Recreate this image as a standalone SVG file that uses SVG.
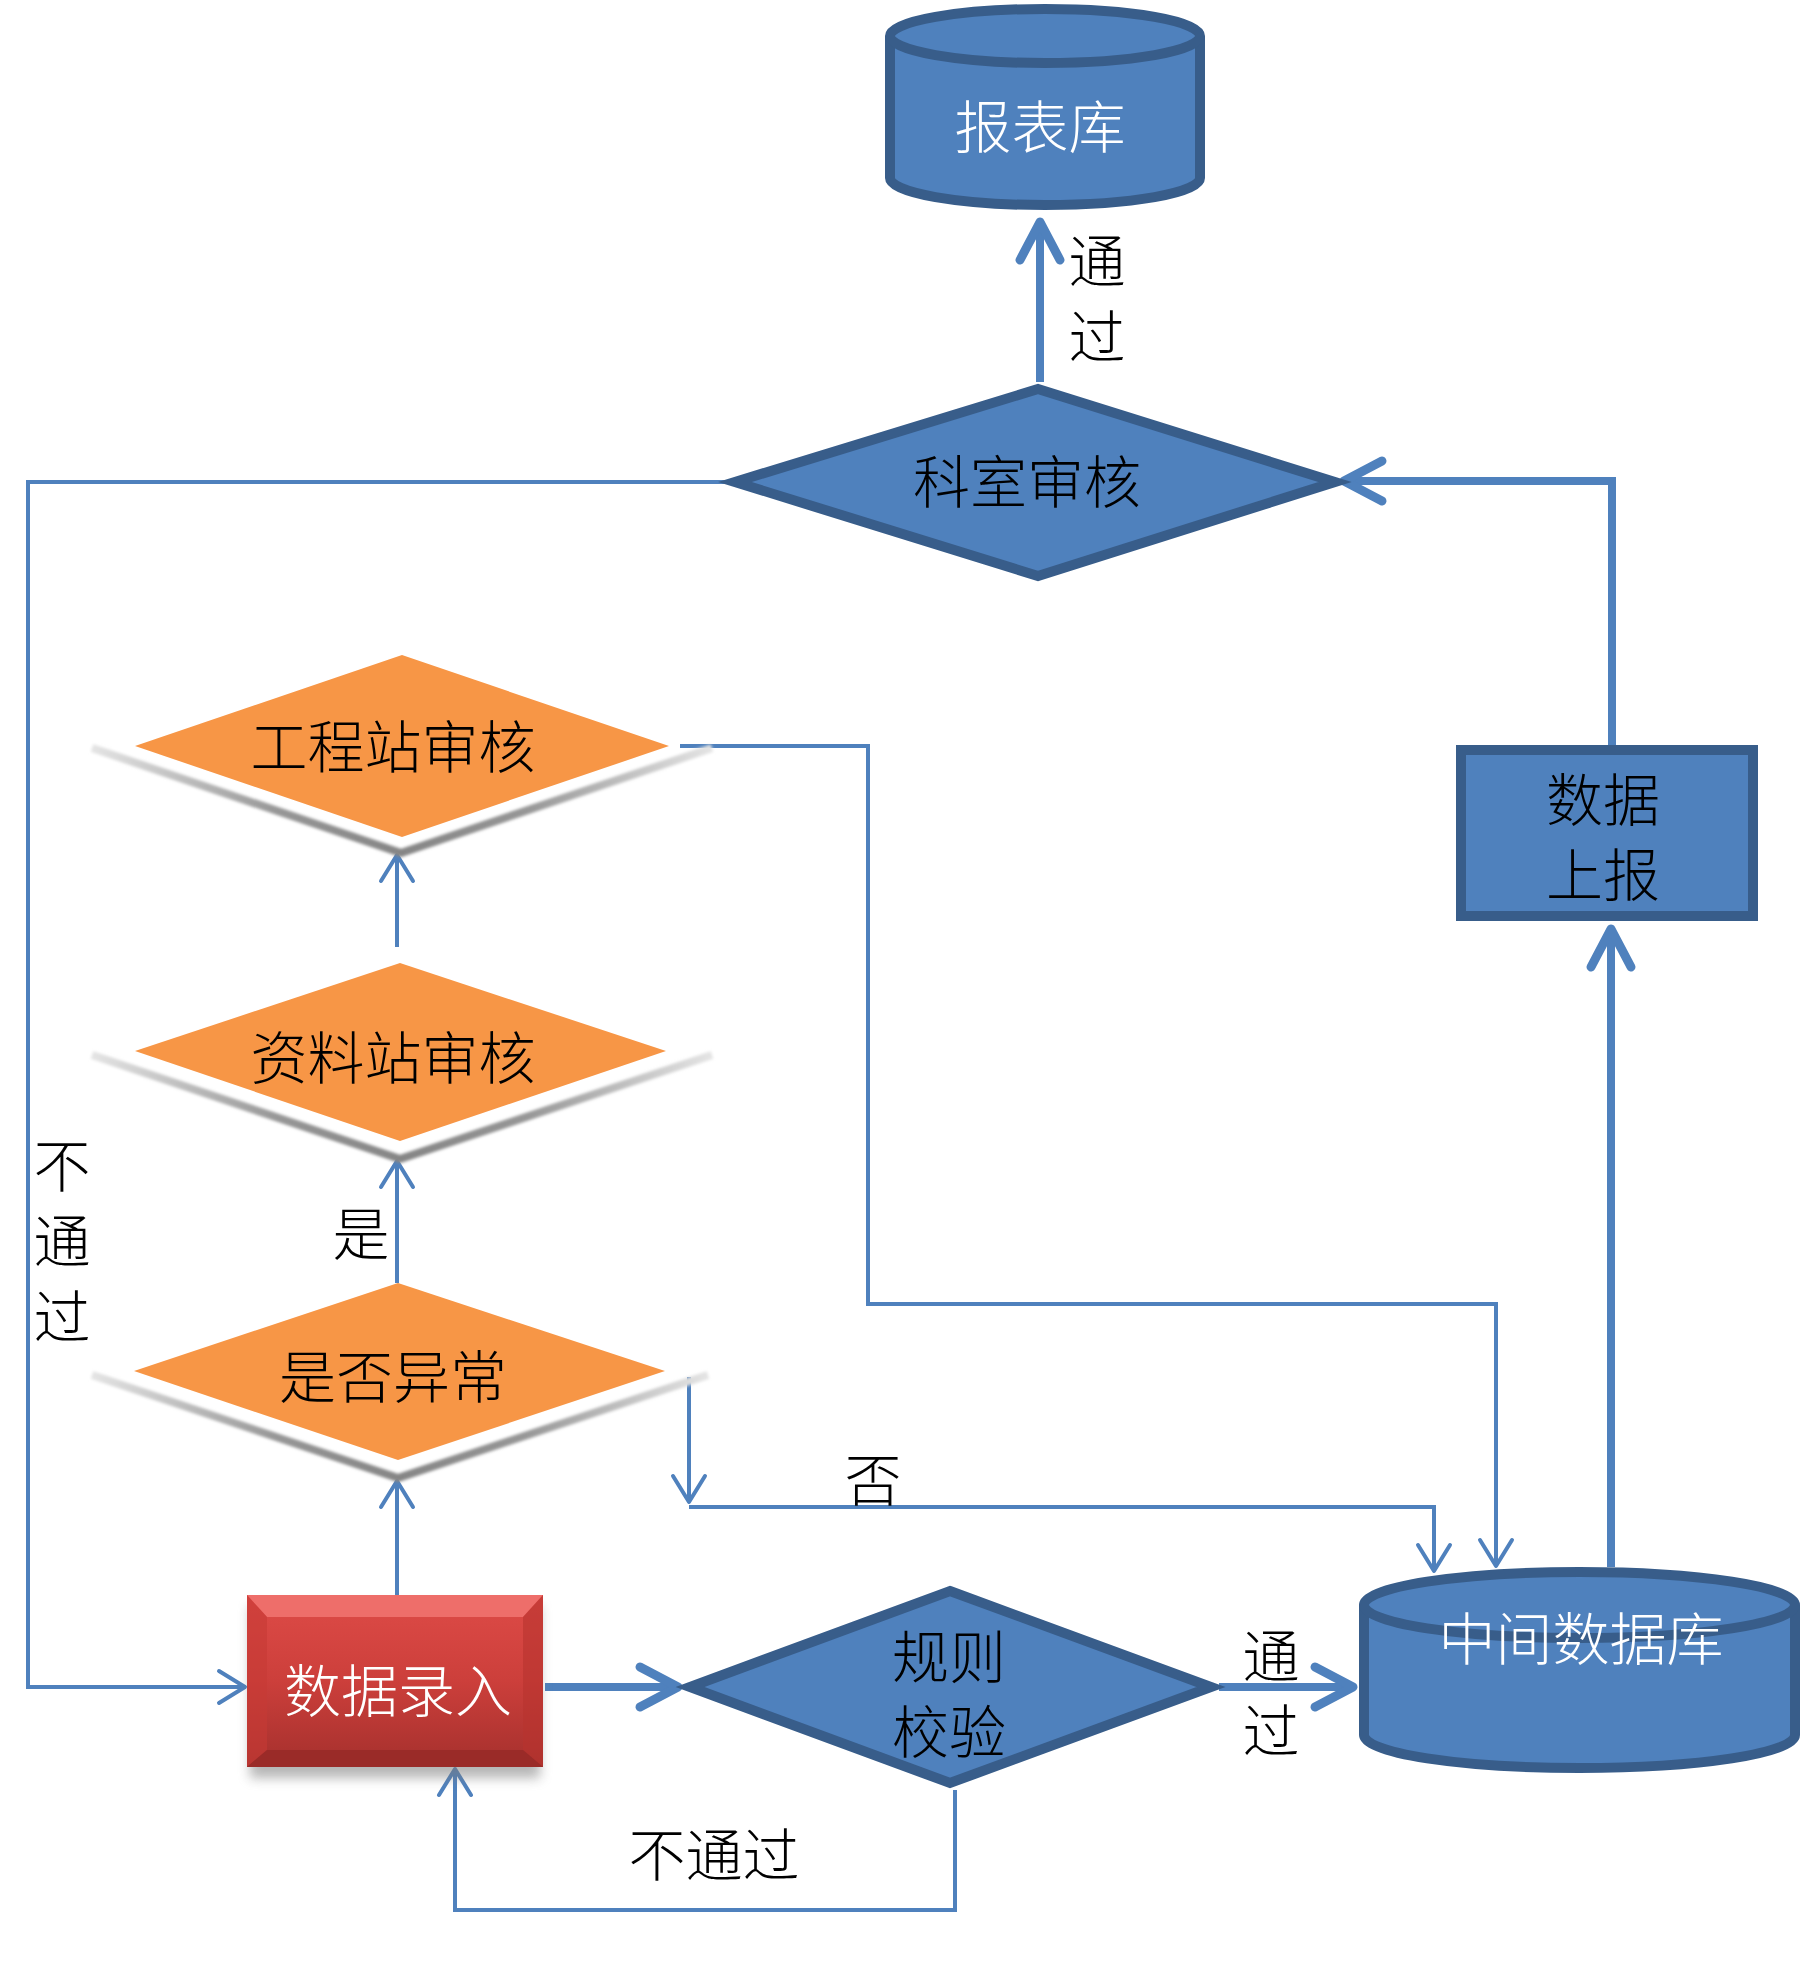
<svg xmlns="http://www.w3.org/2000/svg" width="1803" height="1969" viewBox="0 0 1803 1969">
<style>
  .lbl { font-family: "Noto Sans CJK SC", "Liberation Serif", serif; font-size: 57px; font-weight: 300; text-anchor: middle; dominant-baseline: central; fill: #000; }
  .wt { fill: #ffffff; }
  .blue { fill: #4F81BD; stroke: #385D8A; stroke-width: 10; stroke-linejoin: miter; }
  .orange { fill: #F79646; stroke: none; }
  .shadowv { fill: none; stroke: url(#shg); stroke-width: 8; stroke-linejoin: miter; filter: url(#soft); }
  .thick { fill: none; stroke: #4F81BD; stroke-width: 8; marker-end: url(#ahThick); }
  .thin { fill: none; stroke: #4F81BD; stroke-width: 4; marker-end: url(#ahThin); }
</style>
<defs>
  <marker id="ahThick" markerUnits="userSpaceOnUse" viewBox="-50 -30 60 60" markerWidth="60" markerHeight="60" refX="0" refY="0" orient="auto">
    <path d="M-38,-20 L0,0 L-38,20" fill="none" stroke="#4F81BD" stroke-width="9" stroke-linecap="round" stroke-linejoin="round"/>
  </marker>
  <marker id="ahThin" markerUnits="userSpaceOnUse" viewBox="-40 -30 50 60" markerWidth="50" markerHeight="60" refX="0" refY="0" orient="auto">
    <path d="M-26,-16 L0,0 L-26,16" fill="none" stroke="#4F81BD" stroke-width="4" stroke-linecap="round" stroke-linejoin="round"/>
  </marker>
  <linearGradient id="shg" x1="0" y1="0" x2="1" y2="0">
    <stop offset="0" stop-color="#e4e4e4"/>
    <stop offset="0.3" stop-color="#969696"/>
    <stop offset="0.5" stop-color="#858585"/>
    <stop offset="0.7" stop-color="#969696"/>
    <stop offset="1" stop-color="#e4e4e4"/>
  </linearGradient>
  <linearGradient id="redg" x1="0" y1="0" x2="0" y2="1">
    <stop offset="0" stop-color="#DE4B47"/>
    <stop offset="0.5" stop-color="#CC3F3B"/>
    <stop offset="1" stop-color="#A5302D"/>
  </linearGradient>
  <filter id="soft" x="-10%" y="-20%" width="120%" height="140%">
    <feGaussianBlur stdDeviation="1.5"/>
  </filter>
  <filter id="dshadow" x="-20%" y="-20%" width="140%" height="160%">
    <feGaussianBlur stdDeviation="6"/>
  </filter>
</defs>

<rect width="1803" height="1969" fill="#ffffff"/>

<g id="connectors">
  <path class="thick" d="M1040,382 V222"/>
  <path class="thick" d="M1612,745 V481 H1344"/>
  <path class="thick" d="M1611,1567 V929"/>
  <path class="thick" d="M545,1687 H678"/>
  <path class="thick" d="M1219,1687 H1353"/>
  <path class="thin" d="M728,482 H28 V1687 H245"/>
  <path class="thin" d="M955,1790 V1910 H455 V1769"/>
  <path class="thin" d="M397,1595 V1481"/>
  <path class="thin" d="M397,1283 V1161"/>
  <path class="thin" d="M397,947 V855"/>
  <path class="thin" d="M680,746 H868 V1304 H1496 V1566"/>
  <path class="thin" d="M689,1377 V1502"/>
  <path class="thin" d="M689,1507 H1434 V1571"/>
</g>

<g id="edge-labels">
  <text class="lbl" x="1097" y="257">通</text>
  <text class="lbl" x="1097" y="333">过</text>
  <text class="lbl" x="62" y="1162">不</text>
  <text class="lbl" x="62" y="1237">通</text>
  <text class="lbl" x="62" y="1313">过</text>
  <text class="lbl" x="361" y="1230">是</text>
  <text class="lbl" x="873" y="1476">否</text>
  <text class="lbl" x="1271" y="1652">通</text>
  <text class="lbl" x="1271" y="1727">过</text>
  <text class="lbl" x="714" y="1851">不通过</text>
</g>

<g id="node-baobiaoku">
  <path class="blue" d="M890,36 V178 A155,27 0 0 0 1200,178 V36"/>
  <ellipse class="blue" cx="1045" cy="36" rx="155" ry="27"/>
  <text class="lbl wt" x="1040" y="123">报表库</text>
</g>

<g id="node-keshi">
  <polygon class="blue" points="1038,389 1335,482 1038,576 735,482"/>
  <text class="lbl" x="1027" y="478">科室审核</text>
</g>

<g id="node-shujushangbao">
  <rect class="blue" x="1461" y="750" width="292" height="166"/>
  <text class="lbl" x="1603" y="796">数据</text>
  <text class="lbl" x="1603" y="871">上报</text>
</g>

<g id="node-gongcheng">
  <polyline class="shadowv" points="92,748 401,853 712,748"/>
  <polygon class="orange" points="402,655 669,746 402,837 135,746"/>
  <text class="lbl" x="393" y="743">工程站审核</text>
</g>

<g id="node-ziliao">
  <polyline class="shadowv" points="92,1055 400,1159 712,1055"/>
  <polygon class="orange" points="400,963 666,1051 400,1141 135,1051"/>
  <text class="lbl" x="393" y="1054">资料站审核</text>
</g>

<g id="node-yichang">
  <polyline class="shadowv" points="92,1375 398,1478 708,1375"/>
  <polygon class="orange" points="398,1283 665,1371 398,1460 134,1371"/>
  <text class="lbl" x="393" y="1373">是否异常</text>
</g>

<g id="node-luru">
  <rect x="250" y="1606" width="290" height="172" fill="#7a7a7a" opacity="0.55" filter="url(#dshadow)"/>
  <rect x="247" y="1595" width="296" height="172" fill="url(#redg)"/>
  <polygon points="247,1595 543,1595 523,1617 267,1617" fill="#EE6E6A"/>
  <polygon points="247,1595 267,1617 267,1750 247,1767" fill="#C73A36" opacity="0.6"/>
  <polygon points="543,1595 523,1617 523,1750 543,1767" fill="#B8332F" opacity="0.6"/>
  <polygon points="247,1767 267,1750 523,1750 543,1767" fill="#9A2B28"/>
  <text class="lbl wt" x="398" y="1687">数据录入</text>
</g>

<g id="node-guize">
  <polygon class="blue" points="950,1591 1211,1687 950,1783 690,1687"/>
  <text class="lbl" x="949" y="1653">规则</text>
  <text class="lbl" x="949" y="1728">校验</text>
</g>

<g id="node-zhongjian">
  <path class="blue" d="M1364,1605 V1735 A215.5,33 0 0 0 1795,1735 V1605"/>
  <ellipse class="blue" cx="1579.5" cy="1605" rx="215.5" ry="33"/>
  <text class="lbl wt" x="1581" y="1635">中间数据库</text>
</g>
</svg>
